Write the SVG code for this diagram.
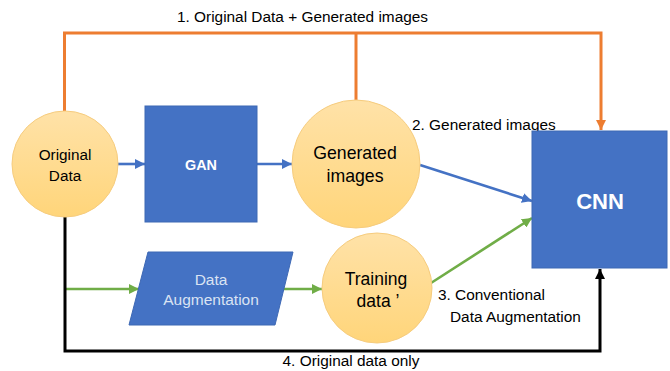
<svg xmlns="http://www.w3.org/2000/svg" width="670" height="371" viewBox="0 0 670 371">
  <style>
    .lbl { font-family: "Liberation Sans", Arial, sans-serif; font-size: 15.4px; fill: #000; }
    .node-txt { font-family: "Liberation Sans", Arial, sans-serif; fill: #000; text-anchor: middle; }
    .box { fill: #4472C4; stroke: #3D68B4; stroke-width: 1; }
    .disk { fill: url(#diskFill); stroke: #F6CC7E; stroke-width: 1; }
    .wire { fill: none; stroke-linejoin: miter; }
    .orange { stroke: #ED7D31; stroke-width: 3; }
    .blue { stroke: #4472C4; stroke-width: 2.6; }
    .green { stroke: #70AD47; stroke-width: 2.6; }
    .black { stroke: #000; stroke-width: 3; }
  </style>
  <defs>
    <linearGradient id="diskFill" x1="0" y1="0" x2="0" y2="1">
      <stop offset="0" stop-color="#FFE2A8"/>
      <stop offset="1" stop-color="#FFD57A"/>
    </linearGradient>
    <marker id="ahOrange" markerUnits="userSpaceOnUse" viewBox="0 0 10 10" refX="10" refY="5" markerWidth="10" markerHeight="10" orient="auto">
      <path d="M0,0 L10,5 L0,10 z" fill="#ED7D31"/>
    </marker>
    <marker id="ahBlue" markerUnits="userSpaceOnUse" viewBox="0 0 10 10" refX="10" refY="5" markerWidth="10" markerHeight="10" orient="auto">
      <path d="M0,0 L10,5 L0,10 z" fill="#4472C4"/>
    </marker>
    <marker id="ahGreen" markerUnits="userSpaceOnUse" viewBox="0 0 10 10" refX="10" refY="5" markerWidth="10" markerHeight="10" orient="auto">
      <path d="M0,0 L10,5 L0,10 z" fill="#70AD47"/>
    </marker>
    <marker id="ahBlack" markerUnits="userSpaceOnUse" viewBox="0 0 10 10" refX="10" refY="5" markerWidth="10" markerHeight="10" orient="auto">
      <path d="M0,0 L10,5 L0,10 z" fill="#000"/>
    </marker>
  </defs>

  <rect width="670" height="371" fill="#fff"/>

  <!-- connectors -->
  <g id="connectors">
    <!-- 1. original + generated -->
    <path class="wire orange" d="M64.5,111 V33 H601 V130" marker-end="url(#ahOrange)"/>
    <path class="wire orange" d="M356,100 V33"/>
    <!-- GAN pipeline -->
    <path class="wire blue" d="M117,164 H145" marker-end="url(#ahBlue)"/>
    <path class="wire blue" d="M257,164 H292" marker-end="url(#ahBlue)"/>
    <path class="wire blue" d="M420,165 L532,201" marker-end="url(#ahBlue)"/>
    <!-- conventional augmentation -->
    <path class="wire green" d="M65,289 H139" marker-end="url(#ahGreen)"/>
    <path class="wire green" d="M283,289 H322" marker-end="url(#ahGreen)"/>
    <path class="wire green" d="M431,283 L532,218" marker-end="url(#ahGreen)"/>
    <!-- original data only -->
    <path class="wire black" d="M65,217 V351 H600 V269" marker-end="url(#ahBlack)"/>

    <text class="lbl" x="302.5" y="21.5" text-anchor="middle">1. Original Data + Generated images</text>
    <text class="lbl" x="412" y="130">2. Generated images</text>
    <text class="lbl" x="438" y="300">3. Conventional</text>
    <text class="lbl" x="450" y="321.5">Data Augmentation</text>
    <text class="lbl" x="351" y="366" text-anchor="middle">4. Original data only</text>
  </g>

  <g id="original-data">
    <circle class="disk" cx="65" cy="164" r="53"/>
    <text class="node-txt" x="65" y="160" font-size="15.3">Original</text>
    <text class="node-txt" x="65" y="181" font-size="15.3">Data</text>
  </g>

  <g id="gan">
    <rect class="box" x="145" y="106" width="112" height="116"/>
    <text class="node-txt" x="201" y="170" font-size="14.4" font-weight="bold" style="fill:#fff">GAN</text>
  </g>

  <g id="generated-images">
    <circle class="disk" cx="356" cy="164" r="64"/>
    <text class="node-txt" x="355" y="159" font-size="17.7">Generated</text>
    <text class="node-txt" x="355" y="182" font-size="17.7">images</text>
  </g>

  <g id="data-augmentation">
    <polygon class="box" points="148,252 293,252 275,325 129,325"/>
    <text class="node-txt" x="211" y="284.5" font-size="15.5" style="fill:#DAE3F3">Data</text>
    <text class="node-txt" x="211" y="305" font-size="15.5" style="fill:#DAE3F3">Augmentation</text>
  </g>

  <g id="training-data">
    <ellipse class="disk" cx="377" cy="288" rx="55" ry="55"/>
    <text class="node-txt" x="376" y="285" font-size="17.5">Training</text>
    <text class="node-txt" x="378" y="307" font-size="17.5">data ’</text>
  </g>

  <g id="cnn">
    <rect class="box" x="532" y="131" width="135" height="137"/>
    <text class="node-txt" x="600" y="209" font-size="22" font-weight="bold" style="fill:#fff">CNN</text>
  </g>
</svg>
